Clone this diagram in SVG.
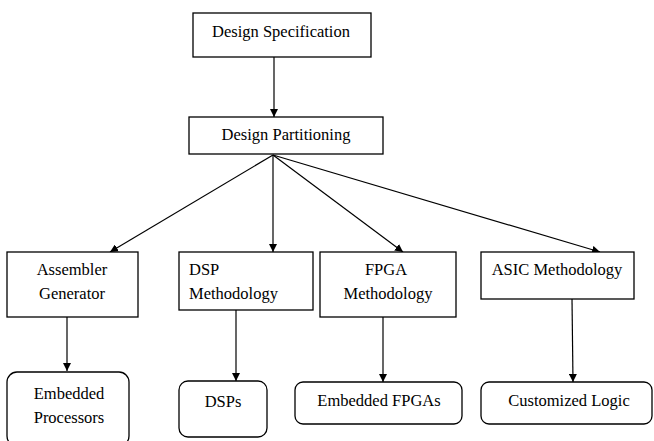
<svg xmlns="http://www.w3.org/2000/svg" width="654" height="441" viewBox="0 0 654 441">
  <style>
    .box { fill: #ffffff; stroke: #000000; stroke-width: 1.3; }
    .lbl { font-family: "Liberation Serif", "Times New Roman", "DejaVu Serif", serif; font-size: 16.5px; fill: #000000; }
    .mid { text-anchor: middle; }
    .edge { stroke: #000000; stroke-width: 1.2; fill: none; marker-end: url(#arrow); }
  </style>
  <defs>
    <marker id="arrow" viewBox="0 0 10 10" refX="10" refY="5" markerWidth="8" markerHeight="8" markerUnits="userSpaceOnUse" orient="auto">
      <path d="M0,0 L10,5 L0,10 z" fill="#000000"/>
    </marker>
  </defs>
  <rect width="654" height="441" fill="#ffffff"/>

  <g id="connectors">
    <line class="edge" x1="274" y1="57" x2="274" y2="117"/>
    <line class="edge" x1="273" y1="155" x2="110" y2="252"/>
    <line class="edge" x1="273" y1="155" x2="273" y2="252"/>
    <line class="edge" x1="273" y1="155" x2="403" y2="252"/>
    <line class="edge" x1="273" y1="155" x2="600" y2="252"/>
    <line class="edge" x1="67" y1="317" x2="67" y2="371"/>
    <line class="edge" x1="236" y1="310" x2="236" y2="381"/>
    <line class="edge" x1="383" y1="317" x2="383" y2="382"/>
    <line class="edge" x1="572" y1="299" x2="573" y2="382"/>
  </g>

  <g id="design-specification">
    <rect class="box" x="193" y="13" width="178" height="44"/>
    <text class="lbl mid" x="281" y="37">Design Specification</text>
  </g>

  <g id="design-partitioning">
    <rect class="box" x="189" y="117" width="194" height="37"/>
    <text class="lbl mid" x="286" y="140">Design Partitioning</text>
  </g>

  <g id="assembler-generator">
    <rect class="box" x="7" y="252" width="131" height="65"/>
    <text class="lbl mid" x="72" y="275">Assembler</text>
    <text class="lbl mid" x="72" y="299">Generator</text>
  </g>

  <g id="dsp-methodology">
    <rect class="box" x="179" y="252" width="134" height="58"/>
    <text class="lbl" x="189" y="275">DSP</text>
    <text class="lbl" x="189" y="299">Methodology</text>
  </g>

  <g id="fpga-methodology">
    <rect class="box" x="320" y="252" width="136" height="65"/>
    <text class="lbl mid" x="386" y="275">FPGA</text>
    <text class="lbl mid" x="388" y="299">Methodology</text>
  </g>

  <g id="asic-methodology">
    <rect class="box" x="481" y="252" width="153" height="47"/>
    <text class="lbl mid" x="557" y="275">ASIC Methodology</text>
  </g>

  <g id="embedded-processors">
    <rect class="box" x="7" y="372" width="122" height="74" rx="10" ry="10"/>
    <text class="lbl mid" x="69" y="399">Embedded</text>
    <text class="lbl mid" x="69" y="423">Processors</text>
  </g>

  <g id="dsps">
    <rect class="box" x="179" y="381" width="88" height="56" rx="9" ry="9"/>
    <text class="lbl mid" x="223" y="407">DSPs</text>
  </g>

  <g id="embedded-fpgas">
    <rect class="box" x="295" y="382" width="167" height="42" rx="8" ry="8"/>
    <text class="lbl mid" x="379" y="406">Embedded FPGAs</text>
  </g>

  <g id="customized-logic">
    <rect class="box" x="481" y="382" width="171" height="42" rx="8" ry="8"/>
    <text class="lbl mid" x="569" y="406">Customized Logic</text>
  </g>
</svg>
